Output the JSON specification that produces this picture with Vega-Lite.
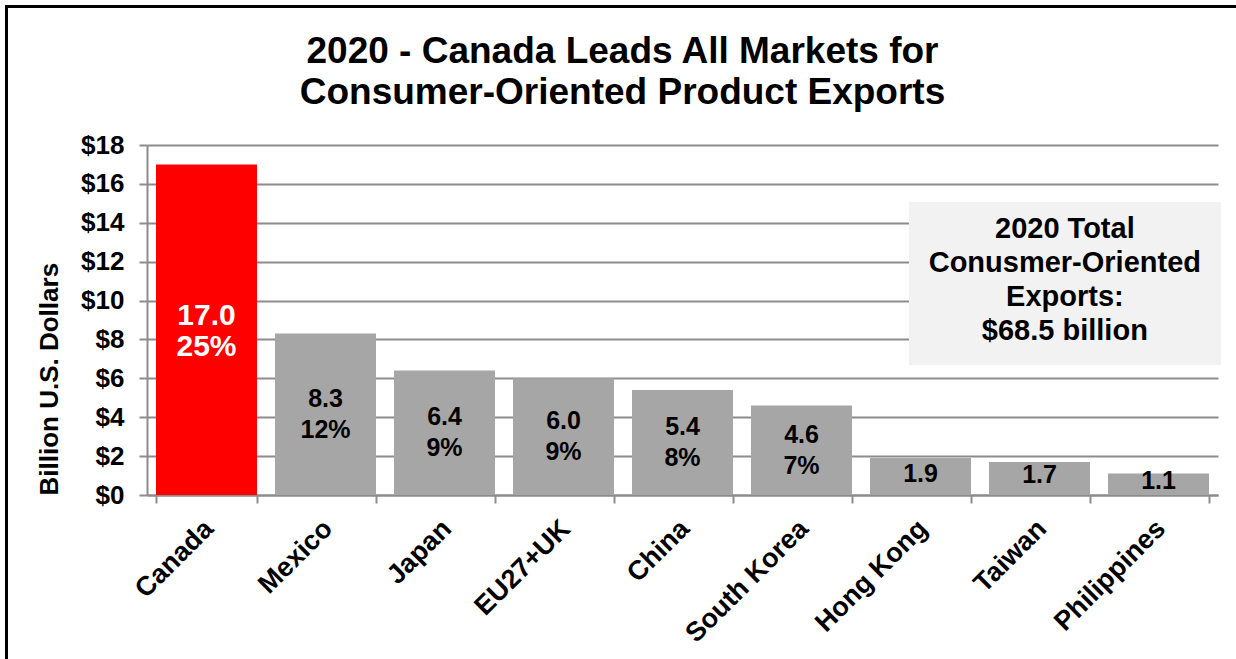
{
  "$schema": "https://vega.github.io/schema/vega-lite/v6.json",
  "autosize": "none",
  "width": 1071,
  "height": 350,
  "padding": {"left": 147, "top": 145, "right": 18, "bottom": 164},
  "background": "white",
  "config": {
    "font": "Liberation Sans",
    "view": {"stroke": null},
    "axisY": {
      "labelFont": "Liberation Sans",
      "labelFontSize": 26,
      "labelFontWeight": "bold",
      "labelColor": "#000000",
      "labelPadding": 15,
      "labelOverlap": false,
      "tickSize": 8,
      "tickColor": "#8c8c8c",
      "tickWidth": 2,
      "domainColor": "#8c8c8c",
      "domainWidth": 2,
      "grid": true,
      "gridColor": "#8c8c8c",
      "gridWidth": 2,
      "titleFont": "Liberation Sans",
      "titleFontSize": 26,
      "titleFontWeight": "bold",
      "titleColor": "#000000"
    }
  },
  "title": {
    "text": ["2020 - Canada Leads All Markets for", "Consumer-Oriented Product Exports"],
    "font": "Liberation Sans",
    "fontSize": 37,
    "fontWeight": "bold",
    "color": "#000000",
    "lineHeight": 41,
    "anchor": "middle",
    "baseline": "bottom",
    "offset": -144,
    "dx": -60
  },
  "datasets": {
    "markets": [
      {"country": "Canada", "value": 17.0, "pct": "25%"},
      {"country": "Mexico", "value": 8.3, "pct": "12%"},
      {"country": "Japan", "value": 6.4, "pct": "9%"},
      {"country": "EU27+UK", "value": 6.0, "pct": "9%"},
      {"country": "China", "value": 5.4, "pct": "8%"},
      {"country": "South Korea", "value": 4.6, "pct": "7%"},
      {"country": "Hong Kong", "value": 1.9, "pct": ""},
      {"country": "Taiwan", "value": 1.7, "pct": ""},
      {"country": "Philippines", "value": 1.1, "pct": ""}
    ],
    "note": [
      {"text": "2020 Total\nConusmer-Oriented\nExports:\n$68.5 billion"}
    ]
  },
  "resolve": {"scale": {"x": "independent", "y": "independent"}},
  "layer": [
    {
      "data": {"name": "markets"},
      "transform": [
        {"calculate": "datum.value / 2", "as": "mid"},
        {"calculate": "format(datum.value, '.1f') + (datum.pct ? '\\n' + datum.pct : '')", "as": "label"}
      ],
      "encoding": {
        "x": {
          "field": "country",
          "type": "nominal",
          "sort": null,
          "scale": {
            "domain": ["Canada", "Mexico", "Japan", "EU27+UK", "China", "South Korea", "Hong Kong", "Taiwan", "Philippines"],
            "paddingInner": 0.151,
            "paddingOuter": 0.0755
          },
          "axis": {
            "title": null,
            "labelAngle": -45,
            "labelFont": "Liberation Sans",
            "labelFontSize": 27,
            "labelFontWeight": "bold",
            "labelColor": "#000000",
            "labelPadding": 12,
            "labelOffset": -7,
            "labelOverlap": false,
            "tickBand": "extent",
            "tickSize": 8,
            "tickColor": "#8c8c8c",
            "tickWidth": 2,
            "domainColor": "#8c8c8c",
            "domainWidth": 2,
            "grid": false
          }
        },
        "y": {
          "field": "value",
          "type": "quantitative",
          "scale": {"domain": [0, 18], "nice": false, "zero": true},
          "axis": {
            "values": [0, 2, 4, 6, 8, 10, 12, 14, 16, 18],
            "labelExpr": "'$' + datum.value",
            "title": "Billion U.S. Dollars",
            "titleAnchor": "start",
            "titlePadding": 18
          }
        }
      },
      "layer": [
        {
          "mark": {"type": "bar"},
          "encoding": {
            "color": {
              "condition": {"test": "datum.country === 'Canada'", "value": "#FF0000"},
              "value": "#A6A6A6"
            }
          }
        },
        {
          "transform": [{"filter": "datum.country !== 'Canada' && datum.pct !== ''"}],
          "mark": {"type": "text", "font": "Liberation Sans", "fontWeight": "bold", "fontSize": 25, "lineHeight": 31, "lineBreak": "\n", "baseline": "middle", "align": "center", "color": "#000000", "dy": -15.5},
          "encoding": {
            "y": {"field": "mid", "type": "quantitative"},
            "text": {"field": "label"}
          }
        },
        {
          "transform": [{"filter": "datum.pct === ''"}],
          "mark": {"type": "text", "font": "Liberation Sans", "fontWeight": "bold", "fontSize": 25, "baseline": "middle", "align": "center", "color": "#000000", "dy": -3},
          "encoding": {
            "y": {"field": "mid", "type": "quantitative"},
            "text": {"field": "label"}
          }
        },
        {
          "transform": [{"filter": "datum.country === 'Canada'"}],
          "mark": {"type": "text", "font": "Liberation Sans", "fontWeight": "bold", "fontSize": 30, "lineHeight": 31, "lineBreak": "\n", "baseline": "middle", "align": "center", "color": "#FFFFFF", "dy": -14},
          "encoding": {
            "y": {"field": "mid", "type": "quantitative"},
            "text": {"field": "label"}
          }
        }
      ]
    },
    {
      "data": {"name": "note"},
      "encoding": {
        "y": {"datum": 0, "type": "quantitative", "scale": {"domain": [0, 18], "nice": false, "zero": false}, "axis": null}
      },
      "layer": [
        {
          "mark": {"type": "rect", "fill": "#F2F2F2"},
          "encoding": {
            "x": {"datum": 0.7115, "type": "quantitative", "scale": {"domain": [0, 1], "nice": false, "zero": false}, "axis": null},
            "x2": {"datum": 1.0028},
            "y": {"datum": 15.07, "type": "quantitative", "axis": null},
            "y2": {"datum": 6.69}
          }
        },
        {
          "mark": {"type": "text", "font": "Liberation Sans", "fontWeight": "bold", "fontSize": 29, "lineHeight": 34, "lineBreak": "\n", "baseline": "middle", "align": "center", "color": "#000000"},
          "encoding": {
            "x": {"datum": 0.857, "type": "quantitative"},
            "y": {"datum": 13.68, "type": "quantitative", "axis": null},
            "text": {"field": "text"}
          }
        },
        {
          "mark": {"type": "rect", "fill": null, "stroke": "#000000", "strokeWidth": 3},
          "encoding": {
            "x": {"datum": -0.1312, "type": "quantitative"},
            "x2": {"datum": 1.03},
            "y": {"datum": 25.12, "type": "quantitative", "axis": null},
            "y2": {"datum": -9}
          }
        }
      ]
    }
  ]
}
